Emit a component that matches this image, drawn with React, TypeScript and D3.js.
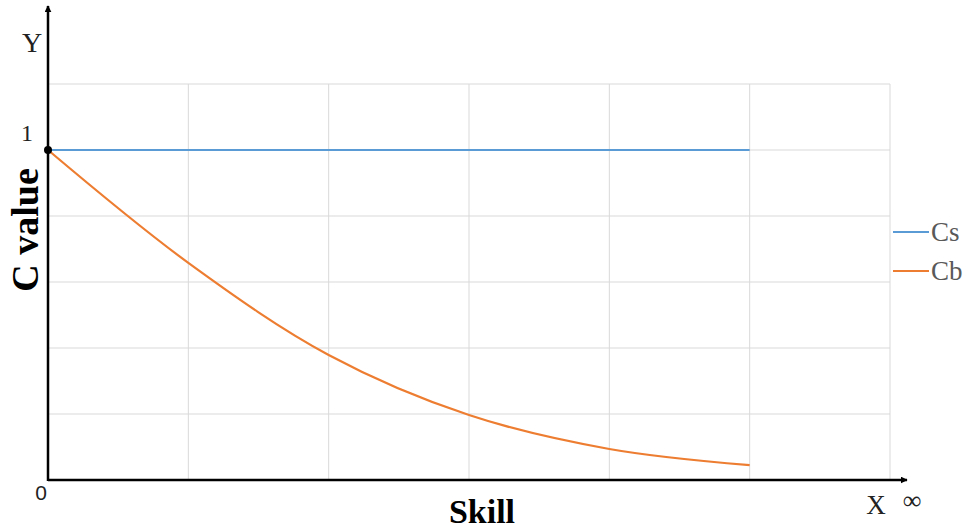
import React, { useEffect, useRef } from 'react';
import * as d3 from 'd3';

const xTicks = [0, 1, 2, 3, 4, 5, 6];
const yTicks = [0, 0.2, 0.4, 0.6, 0.8, 1, 1.2];
const skill = [0, 1, 2, 3, 4, 5];
const csValues = [1, 1, 1, 1, 1, 1];
const cbValues = [1, 0.658, 0.379, 0.197, 0.094, 0.045];

const series = [
  { name: 'Cs', color: '#5b9bd5', values: csValues },
  { name: 'Cb', color: '#ed7d31', values: cbValues },
];

const App: React.FC = () => {
  const svgRef = useRef<SVGSVGElement>(null);

  useEffect(() => {
    if (!svgRef.current) return;
    const svg = d3.select(svgRef.current);
    svg.selectAll('*').remove();

    const x = d3.scaleLinear().domain([0, 6]).range([48, 890]);
    const y = d3.scaleLinear().domain([0, 1.2]).range([480, 84]);

    const defs = svg.append('defs');
    defs.append('marker')
      .attr('id', 'arrow')
      .attr('viewBox', '0 0 10 10')
      .attr('refX', 9).attr('refY', 5)
      .attr('markerWidth', 7).attr('markerHeight', 7)
      .attr('markerUnits', 'userSpaceOnUse')
      .attr('orient', 'auto')
      .append('path').attr('d', 'M0,0 L10,5 L0,10 Z').attr('fill', '#000');

    // grid
    const grid = svg.append('g').attr('stroke', '#d9d9d9').attr('stroke-width', 1);
    grid.selectAll('.gx').data(xTicks.slice(1)).enter().append('line')
      .attr('x1', d => x(d)).attr('x2', d => x(d))
      .attr('y1', y(1.2)).attr('y2', y(0));
    grid.selectAll('.gy').data(yTicks.slice(1)).enter().append('line')
      .attr('x1', x(0)).attr('x2', x(6))
      .attr('y1', d => y(d)).attr('y2', d => y(d));

    // lines
    const line = d3.line<number>()
      .x((_, i) => x(skill[i]))
      .y(d => y(d))
      .curve(d3.curveCatmullRom.alpha(0.5));
    svg.selectAll('.series').data(series).enter().append('path')
      .attr('fill', 'none')
      .attr('stroke', d => d.color)
      .attr('stroke-width', 2.2)
      .attr('d', d => line(d.values));

    // axes
    svg.append('line')
      .attr('x1', x(0)).attr('y1', y(0)).attr('x2', 907).attr('y2', y(0))
      .attr('stroke', '#000').attr('stroke-width', 2.5).attr('marker-end', 'url(#arrow)');
    svg.append('line')
      .attr('x1', x(0)).attr('y1', y(0) + 1).attr('x2', x(0)).attr('y2', 6)
      .attr('stroke', '#000').attr('stroke-width', 2.5).attr('marker-end', 'url(#arrow)');

    svg.append('circle').attr('cx', x(0)).attr('cy', y(1)).attr('r', 4).attr('fill', '#000');

    const serif = '"Liberation Serif", "Times New Roman", serif';
    const txt = (t: string, tx: number, ty: number, size: number, opts: any = {}) =>
      svg.append('text')
        .attr('x', tx).attr('y', ty)
        .attr('font-family', opts.family || serif)
        .attr('font-size', size)
        .attr('font-weight', opts.weight || 'normal')
        .attr('fill', opts.fill || '#000')
        .attr('text-anchor', opts.anchor || 'start')
        .attr('transform', opts.transform || null)
        .text(t);

    txt('Y', 32, 52, 28, { anchor: 'middle', fill: '#222' });
    txt('1', 27, 141, 24, { anchor: 'middle', fill: '#222' });
    txt('0', 41, 500, 21, { anchor: 'middle', family: '"Liberation Sans", Arial, sans-serif', fill: '#222' });
    txt('X', 876, 514, 27, { anchor: 'middle', fill: '#222' });
    txt('∞', 912, 509, 26, { anchor: 'middle', fill: '#222' });
    txt('Skill', 482, 523, 34, { anchor: 'middle', weight: 'bold' });
    txt('C value', 0, 0, 38, { anchor: 'middle', weight: 'bold', transform: 'translate(38,230) rotate(-90)' });

    // legend
    const leg = svg.selectAll('.leg').data(series).enter().append('g')
      .attr('transform', (_, i) => `translate(893,${232 + i * 39})`);
    leg.append('line').attr('x1', 0).attr('x2', 36).attr('y1', 0).attr('y2', 0)
      .attr('stroke', d => d.color).attr('stroke-width', 2.2);
    leg.append('text').attr('x', 38).attr('y', 9)
      .attr('font-family', serif).attr('font-size', 27).attr('fill', '#595959')
      .text(d => d.name);
  }, []);

  return (
    <svg ref={svgRef} width={972} height={531}
      style={{ position: 'absolute', left: 0, top: 0, background: '#fff' }} />
  );
};

export default App;
